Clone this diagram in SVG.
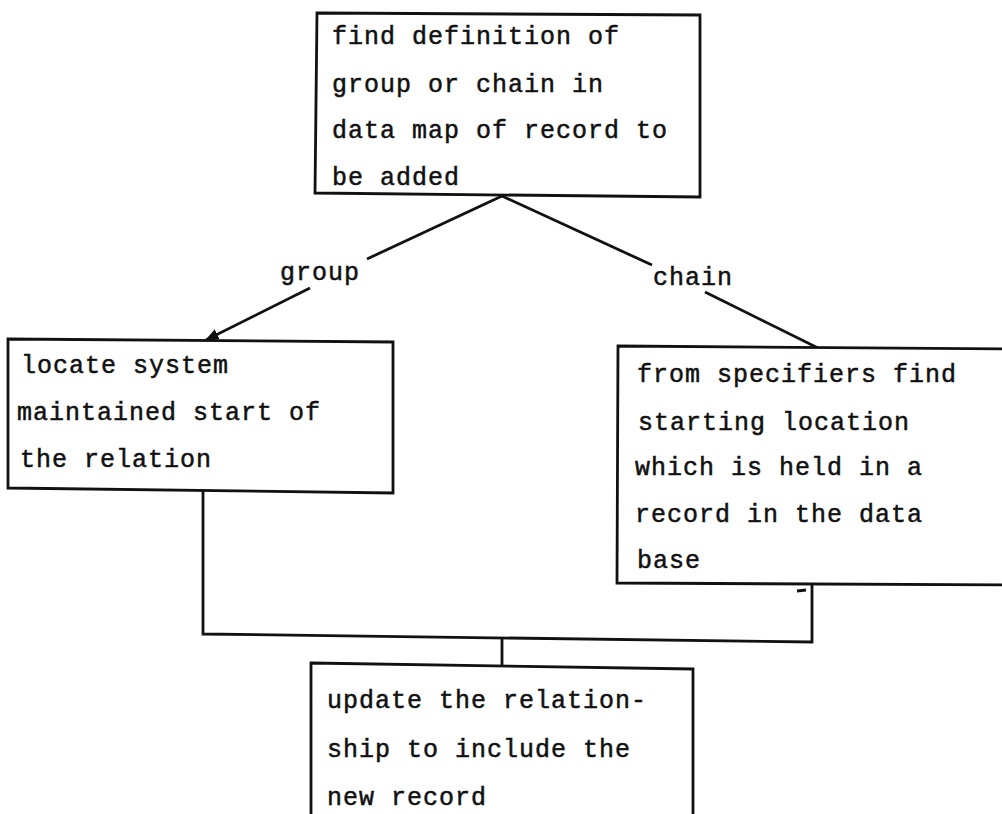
<svg xmlns="http://www.w3.org/2000/svg" width="1002" height="814" viewBox="0 0 1002 814">
  <style>
    .box { fill: #ffffff; stroke: #111111; stroke-width: 2.8; stroke-linejoin: miter; }
    .txt { font-family: "Liberation Mono", "DejaVu Sans Mono", monospace; font-size: 25px; letter-spacing: 1px; fill: #111111; stroke: #111111; stroke-width: 0.5; }
    .wire { fill: none; stroke: #111111; stroke-width: 2.8; stroke-linecap: butt; stroke-linejoin: miter; }
  </style>
  <defs>
    <marker id="arrow" viewBox="0 0 10 10" refX="9" refY="5" markerWidth="5" markerHeight="5" markerUnits="strokeWidth" orient="auto">
      <path d="M0,1 L10,5 L0,9 Z" fill="#111111"/>
    </marker>
  </defs>
  <rect x="0" y="0" width="1002" height="814" fill="#ffffff"/>

  <!-- connectors -->
  <g id="connectors">
    <line class="wire" x1="502" y1="196" x2="367" y2="259"/>
    <line class="wire" x1="310" y1="288" x2="206" y2="340" marker-end="url(#arrow)"/>
    <line class="wire" x1="502" y1="196" x2="652" y2="265"/>
    <line class="wire" x1="705" y1="292" x2="818" y2="348"/>
    <polyline class="wire" points="203,491 203,634 812,642 812,584"/>
    <line class="wire" x1="502" y1="639" x2="502" y2="666"/>
    <line class="wire" x1="797" y1="591" x2="806" y2="590" stroke-width="1.6"/>
  </g>

  <!-- decision labels -->
  <g id="label-group">
    <text class="txt" x="280" y="280">group</text>
  </g>
  <g id="label-chain">
    <text class="txt" x="653" y="285">chain</text>
  </g>

  <!-- start: find definition -->
  <g id="node-find-definition">
    <polygon class="box" points="317,13 700,15 700,197 315,193"/>
    <text class="txt" x="332" y="44">find definition of</text>
    <text class="txt" x="332" y="92">group or chain in</text>
    <text class="txt" x="332" y="138">data map of record to</text>
    <text class="txt" x="332" y="185">be added</text>
  </g>

  <!-- group branch -->
  <g id="node-locate-start">
    <polygon class="box" points="8,339 393,342 393,493 8,488"/>
    <text class="txt" x="21" y="373">locate system</text>
    <text class="txt" x="17" y="420">maintained start of</text>
    <text class="txt" x="20" y="467">the relation</text>
  </g>

  <!-- chain branch -->
  <g id="node-specifiers">
    <polygon class="box" points="618,346 1012,349 1012,585 617,583"/>
    <text class="txt" x="637" y="382">from specifiers find</text>
    <text class="txt" x="638" y="430">starting location</text>
    <text class="txt" x="635" y="475">which is held in a</text>
    <text class="txt" x="635" y="522">record in the data</text>
    <text class="txt" x="637" y="568">base</text>
  </g>

  <!-- final step -->
  <g id="node-update">
    <polygon class="box" points="311,663 693,669 693,830 311,830"/>
    <text class="txt" x="327" y="708">update the relation-</text>
    <text class="txt" x="327" y="757">ship to include the</text>
    <text class="txt" x="327" y="805">new record</text>
  </g>
</svg>
